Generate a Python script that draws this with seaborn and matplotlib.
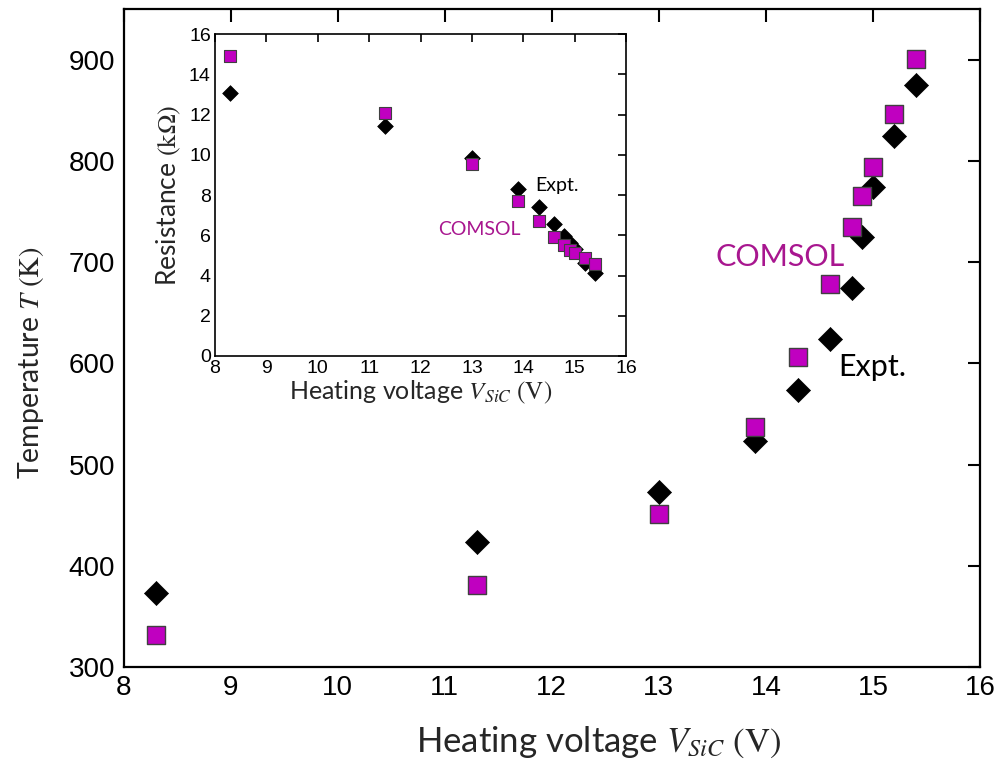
import matplotlib
matplotlib.use("Agg")
import matplotlib.pyplot as plt
import seaborn as sns
import pandas as pd

sns.set_theme(style="white")
plt.rcParams["mathtext.fontset"] = "stix"
plt.rcParams["font.family"] = ["Liberation Sans", "DejaVu Sans"]

# ---- data ----
voltage = [8.3, 11.3, 13.0, 13.9, 14.3, 14.6, 14.8, 14.9, 15.0, 15.2, 15.4]
temp_expt = [373, 423, 473, 523, 574, 624, 674, 725, 774, 825, 875]
temp_comsol = [332, 381, 451, 537, 606, 678, 735, 765, 794, 846, 901]
res_expt = [13.07, 11.44, 9.83, 8.32, 7.42, 6.58, 5.96, 5.62, 5.32, 4.62, 4.13]
res_comsol = [14.89, 12.07, 9.54, 7.68, 6.73, 5.93, 5.52, 5.27, 5.10, 4.85, 4.57]

main_xticks = [8, 9, 10, 11, 12, 13, 14, 15, 16]
main_yticks = [300, 400, 500, 600, 700, 800, 900]
inset_yticks = [0, 2, 4, 6, 8, 10, 12, 14, 16]

df = pd.DataFrame({"V": voltage, "Texp": temp_expt, "Tcom": temp_comsol,
                   "Rexp": res_expt, "Rcom": res_comsol})

MAG = "#C000C0"
TXT_MAG = "#A8168F"
LABEL_FONT = ["Lato", "DejaVu Sans"]

fig = plt.figure(figsize=(10.01, 7.61), dpi=100)
ax = fig.add_axes([0.1234, 0.1235, 0.8557, 0.8647])

sns.scatterplot(data=df, x="V", y="Texp", marker="D", s=150, color="black",
                edgecolor="black", linewidth=0.5, ax=ax, zorder=3)
sns.scatterplot(data=df, x="V", y="Tcom", marker="s", s=172, color=MAG,
                edgecolor="#404040", linewidth=1.0, ax=ax, zorder=4)

ax.set_xlim(8, 16)
ax.set_ylim(300, 950)
ax.set_xticks(main_xticks)
ax.set_yticks(main_yticks)
ax.tick_params(direction="in", length=9, width=1.5, top=True, right=True,
               labelsize=20, pad=6, colors="black")
for sp in ax.spines.values():
    sp.set_linewidth(1.6)
    sp.set_color("black")
ax.set_xlabel(r"Heating voltage $V_{SiC}\ (\mathrm{V})$", fontsize=25, family=LABEL_FONT)
ax.xaxis.set_label_coords(0.555, -0.088)
ax.set_ylabel(r"Temperature $T\ (\mathrm{K})$", fontsize=20.5, family=LABEL_FONT)
ax.yaxis.set_label_coords(-0.091, 0.462)

ax.text(13.525, 705, "COMSOL", color=TXT_MAG, fontsize=22, family=LABEL_FONT,
        va="center", ha="left")
ax.text(14.674, 596, "Expt.", color="black", fontsize=22, family=LABEL_FONT,
        va="center", ha="left")

# ---- inset ----
ins = fig.add_axes([0.2148, 0.5322, 0.4106, 0.4231])
ins.set_facecolor("white")
sns.scatterplot(data=df, x="V", y="Rexp", marker="D", s=64, color="black",
                edgecolor="black", linewidth=0.5, ax=ins, zorder=3)
sns.scatterplot(data=df, x="V", y="Rcom", marker="s", s=78, color=MAG,
                edgecolor="#404040", linewidth=0.8, ax=ins, zorder=4)
ins.set_xlim(8, 16)
ins.set_ylim(0, 16)
ins.set_xticks(main_xticks)
ins.set_yticks(inset_yticks)
ins.tick_params(direction="in", length=6, width=1.2, top=True, right=True,
                labelsize=14, pad=3, colors="black")
for sp in ins.spines.values():
    sp.set_linewidth(1.2)
    sp.set_color("black")
ins.set_xlabel(r"Heating voltage $V_{SiC}\ (\mathrm{V})$", fontsize=18, family=LABEL_FONT, labelpad=1)
ins.set_ylabel(r"Resistance $(\mathrm{k}\Omega)$", fontsize=19, family=LABEL_FONT, labelpad=4)
ins.text(14.23, 8.46, "Expt.", color="black", fontsize=14, family=LABEL_FONT,
         va="center", ha="left")
ins.text(12.34, 6.27, "COMSOL", color=TXT_MAG, fontsize=14, family=LABEL_FONT,
         va="center", ha="left")

fig.savefig("out.png", dpi=100)
